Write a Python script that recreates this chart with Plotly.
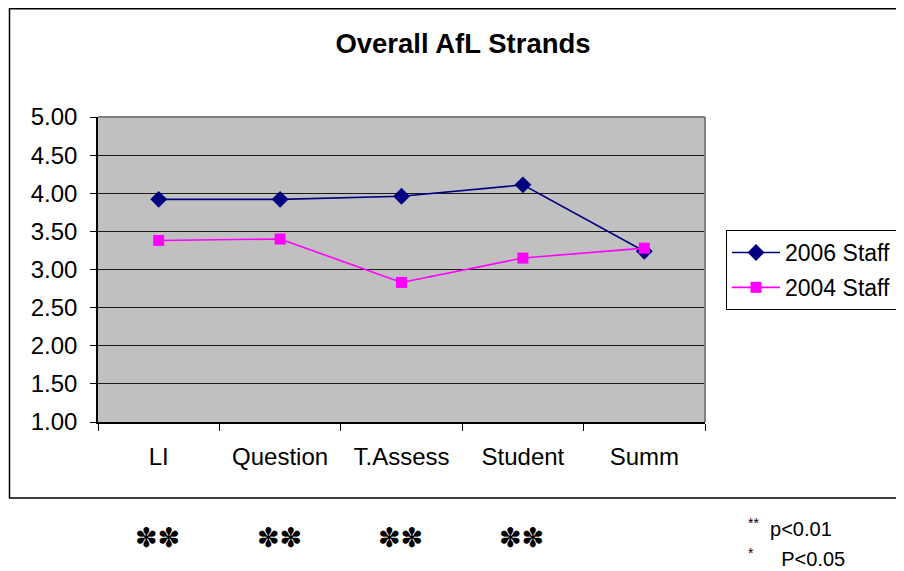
import plotly.graph_objects as go

categories = ["LI", "Question", "T.Assess", "Student", "Summ"]
staff_2006 = [3.92, 3.92, 3.96, 4.11, 3.24]
staff_2004 = [3.38, 3.40, 2.83, 3.15, 3.28]
significance = ["**", "**", "**", "**", ""]
y_ticks = [1.0, 1.5, 2.0, 2.5, 3.0, 3.5, 4.0, 4.5, 5.0]

W, H = 904, 571
OFF = 8  # page body margin around the figure
# plot-area edges in page pixels
L, R, T, B = 98 - OFF, 705 - OFF, 117 - OFF, 422 - OFF
pw, ph = R - L, B - T

def px(x):
    return (x - OFF - L) / pw

def py(y):
    return (B - (y - OFF)) / ph

FONT = "Liberation Sans, Arial, sans-serif"

fig = go.Figure()
fig.add_trace(go.Scatter(
    x=categories, y=staff_2006, name="2006 Staff", mode="lines+markers",
    line=dict(color="#000080", width=1.6), legendgroup="a",
    marker=dict(symbol="diamond", size=13, color="#000080"),
))
fig.add_trace(go.Scatter(
    x=categories, y=staff_2004, name="2004 Staff", mode="lines+markers",
    line=dict(color="#FF00FF", width=1.6), legendgroup="b",
    marker=dict(symbol="square", size=11, color="#FF00FF"),
))

fig.update_layout(
    width=W, height=H,
    margin=dict(l=L, r=W - R, t=T, b=H - B, autoexpand=False),
    paper_bgcolor="white",
    plot_bgcolor="#C0C0C0",
    font=dict(family=FONT, size=24, color="black"),
    title=dict(text="<b>Overall AfL Strands</b>", x=(463 - OFF) / W, xref="container", xanchor="center",
               y=1 - (43 - OFF) / H, yref="container", yanchor="middle",
               font=dict(size=27.5, family=FONT, color="black")),
    xaxis=dict(
        type="category", range=[-0.5, 4.5], tickson="boundaries",
        ticks="outside", ticklen=7, tickcolor="black", tickwidth=1,
        showline=True, linecolor="black", linewidth=1.5,
        showgrid=False, zeroline=False, ticklabelstandoff=12,
        tickfont=dict(size=24, family=FONT),
    ),
    yaxis=dict(
        range=[1, 5], tickvals=y_ticks, tickformat=".2f",
        ticks="outside", ticklen=6, tickcolor="black", tickwidth=1,
        showline=True, linecolor="black", linewidth=1.5,
        showgrid=True, gridcolor="#1a1a1a", gridwidth=1, zeroline=False,
        ticklabelstandoff=8,
        tickfont=dict(size=24, family=FONT),
    ),
    legend=dict(
        x=px(726), y=py(230), xanchor="left", yanchor="top",
        bgcolor="white", bordercolor="black", borderwidth=1,
        font=dict(size=23, family=FONT), itemwidth=48,
        traceorder="grouped", tracegroupgap=2,
    ),
    showlegend=True,
)

shapes = [
    # plot area top/right border (gray)
    dict(type="line", xref="paper", yref="paper", x0=0, x1=1, y0=1, y1=1,
         line=dict(color="#808080", width=2)),
    dict(type="line", xref="paper", yref="paper", x0=1, x1=1, y0=0, y1=1,
         line=dict(color="#808080", width=2)),
    # outer chart border
    dict(type="rect", xref="paper", yref="paper",
         x0=px(9.5), x1=px(1000), y0=py(498), y1=py(OFF + 0.75),
         line=dict(color="black", width=1.5), fillcolor="rgba(0,0,0,0)", layer="below"),
]
fig.update_layout(shapes=shapes)

for cat, s in zip(categories, significance):
    if s:
        fig.add_annotation(
            x=cat, xref="x", y=py(537), yref="paper", yanchor="middle",
            text=s.replace("*", "✽"), showarrow=False,
            font=dict(size=27, family="DejaVu Sans", color="black"),
            xshift=-1,
        )

NOTE_FONT = "Liberation Sans, Arial, sans-serif"
fig.add_annotation(x=px(746), xref="paper", y=py(527), yref="paper",
                   xanchor="left", yanchor="middle", showarrow=False,
                   text="<sup>**</sup>  p<0.01", align="left",
                   font=dict(size=20, family=NOTE_FONT, color="black"))
fig.add_annotation(x=px(746), xref="paper", y=py(557), yref="paper",
                   xanchor="left", yanchor="middle", showarrow=False,
                   text="<sup>*</sup>     P<0.05", align="left",
                   font=dict(size=20, family=NOTE_FONT, color="black"))

fig.write_html("out.html")
